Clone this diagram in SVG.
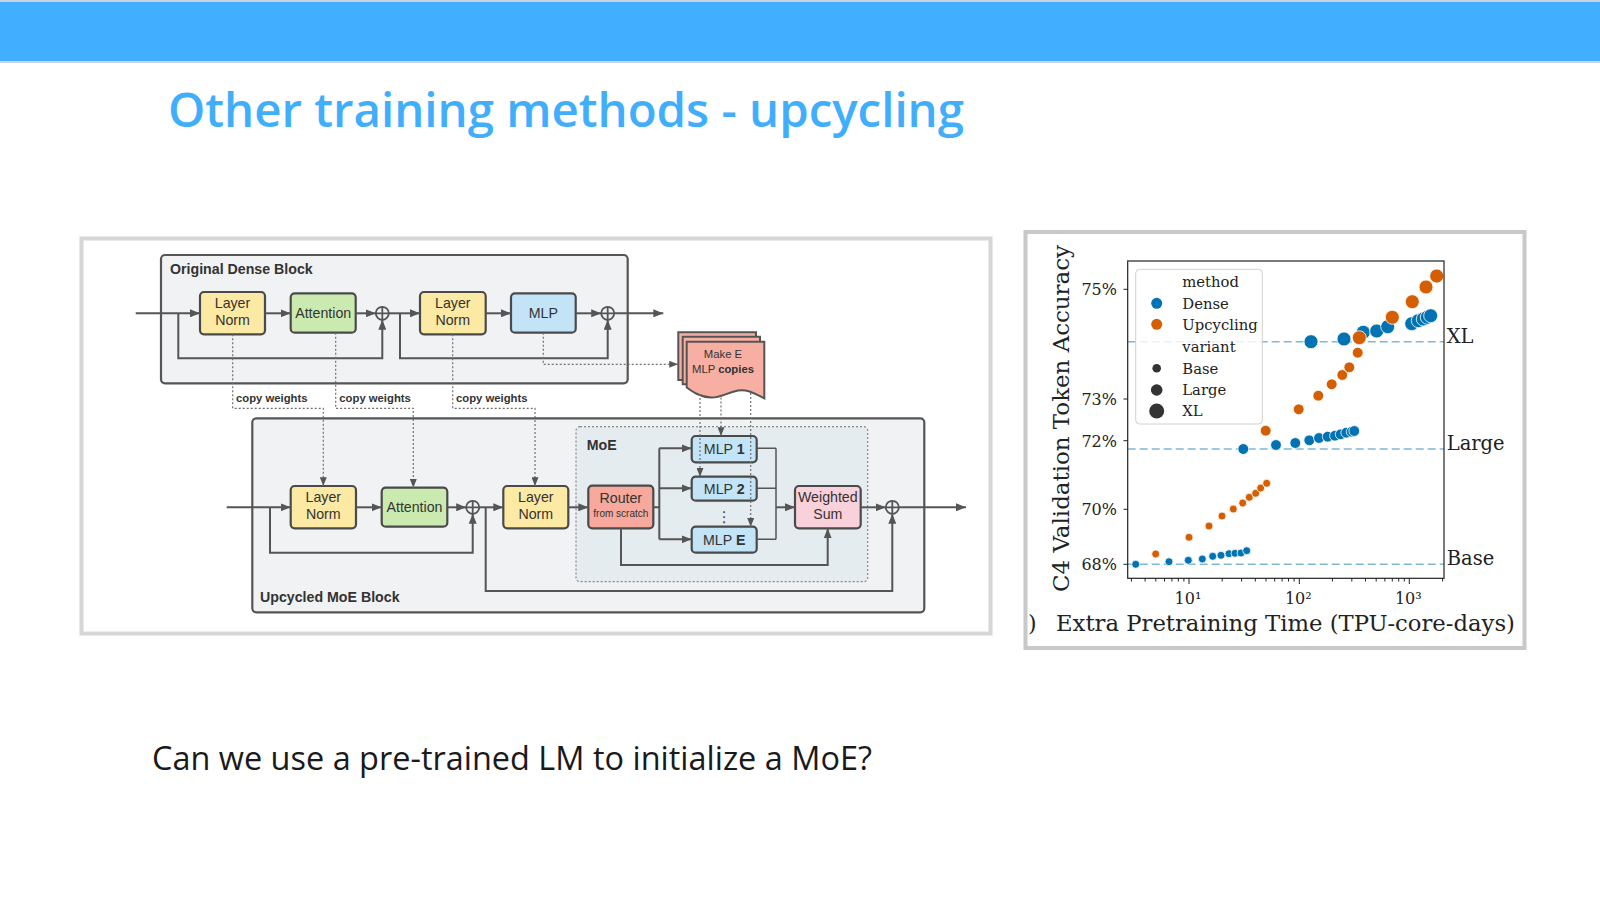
<svg xmlns="http://www.w3.org/2000/svg" width="1600" height="901" viewBox="0 0 1600 901">
<defs>
<style>
.box{stroke:#4a4a4a;stroke-width:2.2}
.blk{fill:#F1F2F4;stroke:#555;stroke-width:2.2}
.ln{fill:#FCE9A4}.att{fill:#CBEAAF}.mlp{fill:#C3E3F6}.rt{fill:#F6A99C}.ws{fill:#F9D1DB}.doc{fill:#F6AFA2;stroke:#555;stroke-width:2}
.lbl{font-family:"Liberation Sans",Arial,sans-serif;font-size:14.2px;fill:#333;text-anchor:middle}
.sm{font-size:11.3px}
.xs{font-size:10px}
.ttl{font-family:"Liberation Sans",Arial,sans-serif;font-size:14.2px;font-weight:bold;fill:#333}
.cw{font-family:"Liberation Sans",Arial,sans-serif;font-size:11.3px;font-weight:bold;fill:#333}
.conn{fill:none;stroke:#555;stroke-width:2}
.thin{fill:none;stroke:#555;stroke-width:1.5}
.dot{fill:none;stroke:#707070;stroke-width:1.2;stroke-dasharray:2 2}
.plus{fill:none;stroke:#555;stroke-width:1.8}
.serif{font-family:"DejaVu Serif",serif;fill:#222}
.dense{fill:#0173B2;stroke:#fff;stroke-width:0.8}
.up{fill:#D55E00;stroke:#fff;stroke-width:0.8}
.ref{stroke:#7FB8D9;stroke-width:1.6;stroke-dasharray:8 4;fill:none}
.tick{stroke:#222;stroke-width:1}
</style>
<marker id="ah" viewBox="0 0 10 8" refX="10" refY="4" markerWidth="10" markerHeight="8" markerUnits="userSpaceOnUse" orient="auto"><path d="M0,0 L10,4 L0,8 z" fill="#555"/></marker>
<marker id="ahs" viewBox="0 0 10 8" refX="10" refY="4" markerWidth="9" markerHeight="7" markerUnits="userSpaceOnUse" orient="auto"><path d="M0,0 L10,4 L0,8 z" fill="#555"/></marker>
</defs>
<rect width="1600" height="901" fill="#fff"/>
<!-- header -->
<g id="header">
<rect x="0" y="0" width="1600" height="62" fill="#42AEFF"/>
<rect x="0" y="0" width="1600" height="2" fill="#c9d3da"/>
<rect x="0" y="61" width="1600" height="2" fill="#c9d3da"/>
<text x="168" y="127.3" font-family="'Open Sans','Noto Sans',sans-serif" font-weight="600" font-size="46.5" fill="#41AEFC" textLength="796" lengthAdjust="spacingAndGlyphs">Other training methods - upcycling</text>
</g>
<!-- left figure frame -->
<rect x="81.5" y="238.5" width="909" height="395" fill="#fff" stroke="#d6d6d6" stroke-width="4"/>
<!-- blocks -->
<g id="dense-block"><rect class="blk" x="161" y="255" width="466.7" height="128.3" rx="4"/><text class="ttl" x="170" y="274">Original Dense Block</text></g>
<g id="moe-block"><rect class="blk" x="252.3" y="418.3" width="672" height="194" rx="4"/><text class="ttl" x="260" y="602.3">Upcycled MoE Block</text></g>
<g id="moe-region"><rect x="576" y="426.7" width="291.7" height="155" rx="4" fill="#E5ECEF" stroke="#888" stroke-width="1.2" stroke-dasharray="2 2"/><text class="ttl" x="586.7" y="450">MoE</text></g>
<!-- nodes -->
<g id="ln1"><rect class="box ln" x="200" y="292" width="65" height="42.3" rx="4"/><text class="lbl" x="232.5" y="307.5">Layer</text><text class="lbl" x="232.5" y="324.5">Norm</text></g>
<g id="att1"><rect class="box att" x="290.7" y="293.3" width="65" height="39.4" rx="4"/><text class="lbl" x="323.2" y="318">Attention</text></g>
<g id="plus1"><circle class="plus" cx="382.3" cy="313.3" r="6.5"/><path class="plus" d="M375.8,313.3H388.8M382.3,306.8V319.8"/></g>
<g id="ln2"><rect class="box ln" x="420" y="292" width="65.7" height="42.3" rx="4"/><text class="lbl" x="452.8" y="307.5">Layer</text><text class="lbl" x="452.8" y="324.5">Norm</text></g>
<g id="mlp"><rect class="box mlp" x="511" y="293.3" width="64.7" height="39.4" rx="4"/><text class="lbl" x="543.3" y="318">MLP</text></g>
<g id="plus2"><circle class="plus" cx="607.7" cy="313.3" r="6.5"/><path class="plus" d="M601.2,313.3H614.2M607.7,306.8V319.8"/></g>
<g id="make-copies">
<path class="doc" d="M678.3,332.3H756V380H678.3Z"/>
<path class="doc" d="M682.7,336.7H760V384.3H682.7Z"/>
<path class="doc" d="M686.7,341.7H764.3V398.3C752,392 746,389 738,390.5C726,393 720,398 711,397.5C700,397 693,392 686.7,387.5Z"/>
<text class="lbl sm" x="723" y="358.3">Make E</text>
<text class="lbl sm" x="723" y="373.3">MLP <tspan font-weight="bold">copies</tspan></text>
</g>
<g id="ln3"><rect class="box ln" x="290.7" y="486" width="65.3" height="42.3" rx="4"/><text class="lbl" x="323.3" y="501.5">Layer</text><text class="lbl" x="323.3" y="518.5">Norm</text></g>
<g id="att2"><rect class="box att" x="381.7" y="487.7" width="65.6" height="39" rx="4"/><text class="lbl" x="414.5" y="512.2">Attention</text></g>
<g id="plus3"><circle class="plus" cx="472.7" cy="507.3" r="6.5"/><path class="plus" d="M466.2,507.3H479.2M472.7,500.8V513.8"/></g>
<g id="ln4"><rect class="box ln" x="503.3" y="486" width="65" height="42.3" rx="4"/><text class="lbl" x="535.8" y="501.5">Layer</text><text class="lbl" x="535.8" y="518.5">Norm</text></g>
<g id="router"><rect class="box rt" x="588.3" y="485.7" width="65" height="42.6" rx="4"/><text class="lbl" x="620.8" y="503">Router</text><text class="lbl xs" x="620.8" y="517">from scratch</text></g>
<g id="mlp-1"><rect class="box mlp" x="691.7" y="436" width="65" height="26.3" rx="4"/><text class="lbl" x="724.2" y="454">MLP <tspan font-weight="bold">1</tspan></text></g>
<g id="mlp-2"><rect class="box mlp" x="691.7" y="476.7" width="65" height="24" rx="4"/><text class="lbl" x="724.2" y="494">MLP <tspan font-weight="bold">2</tspan></text></g>
<g id="dots"><text x="724.3" y="521.5" font-family="'DejaVu Sans',sans-serif" font-size="15" fill="#444" text-anchor="middle">⋮</text></g>
<g id="mlp-e"><rect class="box mlp" x="691.7" y="526.7" width="65" height="26" rx="4"/><text class="lbl" x="724.2" y="545">MLP <tspan font-weight="bold">E</tspan></text></g>
<g id="weighted-sum"><rect class="box ws" x="795" y="486" width="65.7" height="42.3" rx="4"/><text class="lbl" x="827.8" y="501.5">Weighted</text><text class="lbl" x="827.8" y="518.5">Sum</text></g>
<g id="plus4"><circle class="plus" cx="892.3" cy="507.3" r="6.5"/><path class="plus" d="M885.8,507.3H898.8M892.3,500.8V513.8"/></g>
<g id="copy-labels"><text class="cw" x="236" y="402.3">copy weights</text><text class="cw" x="339.3" y="402.3">copy weights</text><text class="cw" x="456" y="402.3">copy weights</text></g>
<!-- connectors -->
<g id="connectors">
<path class="conn" d="M135.7,313.3H200" marker-end="url(#ah)"/>
<path class="conn" d="M265,313.3H290.7" marker-end="url(#ah)"/>
<path class="conn" d="M355.7,313.3H375.8" marker-end="url(#ah)"/>
<path class="conn" d="M178.3,313.3V358.3H382.3V319.8" marker-end="url(#ah)"/>
<path class="conn" d="M388.8,313.3H420" marker-end="url(#ah)"/>
<path class="conn" d="M400,313.3V358.3H607.7V319.8" marker-end="url(#ah)"/>
<path class="conn" d="M485.7,313.3H511" marker-end="url(#ah)"/>
<path class="conn" d="M575.7,313.3H601.2" marker-end="url(#ah)"/>
<path class="conn" d="M614.2,313.3H663.3" marker-end="url(#ah)"/>
<path class="dot" d="M543.3,332.7V364.3H678" marker-end="url(#ahs)"/>
<path class="dot" d="M232.7,334.3V408.3H323.3V486" marker-end="url(#ahs)"/>
<path class="dot" d="M335.7,332.7V408.3H413.3V487.7" marker-end="url(#ahs)"/>
<path class="dot" d="M452.7,334.3V408.3H535V486" marker-end="url(#ahs)"/>
<path class="dot" d="M700,394V476.7" marker-end="url(#ahs)"/>
<path class="dot" d="M721,397.5V436" marker-end="url(#ahs)"/>
<path class="dot" d="M750.7,393V526.7" marker-end="url(#ahs)"/>
<path class="conn" d="M226.7,507.3H290.7" marker-end="url(#ah)"/>
<path class="conn" d="M356,507.3H381.7" marker-end="url(#ah)"/>
<path class="conn" d="M447.3,507.3H466.2" marker-end="url(#ah)"/>
<path class="conn" d="M270,507.3V552.7H472.7V513.8" marker-end="url(#ah)"/>
<path class="conn" d="M479.2,507.3H503.3" marker-end="url(#ah)"/>
<path class="conn" d="M485.7,507.3V591H892.3V513.8" marker-end="url(#ah)"/>
<path class="conn" d="M568.3,507.3H588.3" marker-end="url(#ah)"/>
<path class="conn" d="M653.3,507.3H659.3M659.3,448.3V539.3"/>
<path class="conn" d="M659.3,448.3H691.7" marker-end="url(#ah)"/>
<path class="conn" d="M659.3,488.3H691.7" marker-end="url(#ah)"/>
<path class="conn" d="M659.3,539.3H691.7" marker-end="url(#ah)"/>
<path class="thin" d="M756.7,448.3H776M756.7,488.3H776M756.7,539.3H776M776,448.3V539.3"/>
<path class="conn" d="M776,507.3H795" marker-end="url(#ah)"/>
<path class="conn" d="M621,528.3V565H827.7V528.3" marker-end="url(#ah)"/>
<path class="conn" d="M860.7,507.3H885.8" marker-end="url(#ah)"/>
<path class="conn" d="M898.8,507.3H966" marker-end="url(#ah)"/>
</g>
<!-- chart -->
<g id="chart">
<rect x="1025.5" y="232" width="499" height="416" fill="#fff" stroke="#c8c8c8" stroke-width="4"/>
<g id="ref-lines">
<path class="ref" d="M1127.7,341.7H1444"/><path class="ref" d="M1127.7,449H1444"/><path class="ref" d="M1127.7,564.3H1444"/>
</g>
<g id="points">
<circle class="dense" cx="1135.7" cy="564.3" r="4"/><circle class="dense" cx="1169" cy="561.7" r="4"/><circle class="dense" cx="1188.3" cy="560.3" r="4"/><circle class="dense" cx="1202.3" cy="559" r="4"/><circle class="dense" cx="1212.7" cy="556.3" r="4"/><circle class="dense" cx="1221" cy="555.3" r="4"/><circle class="dense" cx="1229" cy="553.7" r="4"/><circle class="dense" cx="1235" cy="553.3" r="4"/><circle class="dense" cx="1241" cy="553" r="4"/><circle class="dense" cx="1246.7" cy="550.7" r="4"/>
<circle class="dense" cx="1243.3" cy="449" r="5.4"/><circle class="dense" cx="1276" cy="445" r="5.4"/><circle class="dense" cx="1295.3" cy="443" r="5.4"/><circle class="dense" cx="1309.3" cy="440.3" r="5.4"/><circle class="dense" cx="1319" cy="438" r="5.4"/><circle class="dense" cx="1327.7" cy="436.7" r="5.4"/><circle class="dense" cx="1335" cy="435.7" r="5.4"/><circle class="dense" cx="1340.7" cy="434.3" r="5.4"/><circle class="dense" cx="1346.3" cy="432.7" r="5.4"/><circle class="dense" cx="1351.7" cy="431.7" r="5.4"/><circle class="dense" cx="1354.3" cy="431" r="5.4"/>
<circle class="dense" cx="1311" cy="341.7" r="7"/><circle class="dense" cx="1344" cy="339" r="7"/><circle class="dense" cx="1363.3" cy="332.3" r="7"/><circle class="dense" cx="1376.7" cy="331" r="7"/><circle class="dense" cx="1387.7" cy="326.7" r="7"/><circle class="dense" cx="1411.7" cy="323.7" r="7"/><circle class="dense" cx="1418.3" cy="320.7" r="7"/><circle class="dense" cx="1423.3" cy="319" r="7"/><circle class="dense" cx="1427.3" cy="317.3" r="7"/><circle class="dense" cx="1430.7" cy="315.7" r="7"/>
<circle class="up" cx="1155.7" cy="554" r="4"/><circle class="up" cx="1189" cy="537.3" r="4"/><circle class="up" cx="1209" cy="526" r="4"/><circle class="up" cx="1222" cy="516" r="4"/><circle class="up" cx="1233.3" cy="509" r="4"/><circle class="up" cx="1242.7" cy="503" r="4"/><circle class="up" cx="1249.3" cy="497.3" r="4"/><circle class="up" cx="1255.7" cy="493.3" r="4"/><circle class="up" cx="1260.7" cy="488" r="4"/><circle class="up" cx="1266.7" cy="483.3" r="4"/>
<circle class="up" cx="1265.7" cy="430.7" r="5.4"/><circle class="up" cx="1298.7" cy="409.3" r="5.4"/><circle class="up" cx="1318.3" cy="395.7" r="5.4"/><circle class="up" cx="1331.7" cy="384.3" r="5.4"/><circle class="up" cx="1342.3" cy="375" r="5.4"/><circle class="up" cx="1349.3" cy="367.3" r="5.4"/><circle class="up" cx="1357.7" cy="352.7" r="5.4"/>
<circle class="up" cx="1359.3" cy="337.7" r="7"/><circle class="up" cx="1392.3" cy="317.3" r="7"/><circle class="up" cx="1412.3" cy="301.7" r="7"/><circle class="up" cx="1426" cy="287" r="7"/><circle class="up" cx="1436.7" cy="276" r="7"/>
</g>
<g id="axes">
<rect x="1127.7" y="261" width="316.3" height="317.3" fill="none" stroke="#222" stroke-width="1.2"/>
<path class="tick" d="M1123.5,289.3H1127.7M1123.5,399H1127.7M1123.5,440.7H1127.7M1123.5,509.3H1127.7M1123.5,564.3H1127.7"/>
<path class="tick" d="M1189,578.3V584M1299.3,578.3V584M1409.3,578.3V584"/>
<path class="tick" d="M1131.4,578.3V581.5M1145.1,578.3V581.5M1155.8,578.3V581.5M1164.5,578.3V581.5M1171.9,578.3V581.5M1178.3,578.3V581.5M1183.9,578.3V581.5M1222.2,578.3V581.5M1241.6,578.3V581.5M1255.3,578.3V581.5M1266,578.3V581.5M1274.7,578.3V581.5M1282.1,578.3V581.5M1288.5,578.3V581.5M1294.1,578.3V581.5M1332.4,578.3V581.5M1351.8,578.3V581.5M1365.5,578.3V581.5M1376.2,578.3V581.5M1384.9,578.3V581.5M1392.3,578.3V581.5M1398.7,578.3V581.5M1404.3,578.3V581.5M1442.6,578.3V581.5"/>
<g class="serif" font-size="16" text-anchor="end">
<text x="1117" y="295">75%</text><text x="1117" y="404.8">73%</text><text x="1117" y="446.5">72%</text><text x="1117" y="515">70%</text><text x="1117" y="570">68%</text>
</g>
<g class="serif" font-size="16" text-anchor="middle">
<text x="1188" y="604">10¹</text><text x="1298.3" y="604">10²</text><text x="1408.3" y="604">10³</text>
</g>
<g class="serif" font-size="19.5">
<text x="1446.7" y="342.5">XL</text><text x="1446.7" y="450">Large</text><text x="1446.7" y="565">Base</text>
</g>
<text class="serif" font-size="22" transform="translate(1069,418.5) rotate(-90)" text-anchor="middle" textLength="347" lengthAdjust="spacingAndGlyphs">C4 Validation Token Accuracy</text>
<text class="serif" font-size="22" x="1028" y="631">)</text>
<text class="serif" font-size="22" x="1056" y="631" textLength="459" lengthAdjust="spacingAndGlyphs">Extra Pretraining Time (TPU-core-days)</text>
</g>
<g id="legend">
<rect x="1135.7" y="269.3" width="126.6" height="154.7" rx="4" fill="#fff" fill-opacity="0.8" stroke="#d0d0d0" stroke-width="1"/>
<circle cx="1156.7" cy="303.3" r="5.5" fill="#0173B2"/>
<circle cx="1156.7" cy="324.3" r="5.5" fill="#D55E00"/>
<circle cx="1156.7" cy="368.3" r="4.3" fill="#333"/>
<circle cx="1156.7" cy="390" r="5.8" fill="#333"/>
<circle cx="1156.7" cy="411" r="7.5" fill="#333"/>
<g class="serif" font-size="14.8">
<text x="1182.3" y="287">method</text><text x="1182.3" y="308.5">Dense</text><text x="1182.3" y="329.5">Upcycling</text><text x="1182.3" y="351.5">variant</text><text x="1182.3" y="373.5">Base</text><text x="1182.3" y="395">Large</text><text x="1182.3" y="416">XL</text>
</g>
</g>
</g>
<g id="caption">
<text x="152" y="770" font-family="'Open Sans','Noto Sans',sans-serif" font-size="33" fill="#1a1a1a" textLength="720" lengthAdjust="spacingAndGlyphs">Can we use a pre-trained LM to initialize a MoE?</text>
</g>
</svg>
